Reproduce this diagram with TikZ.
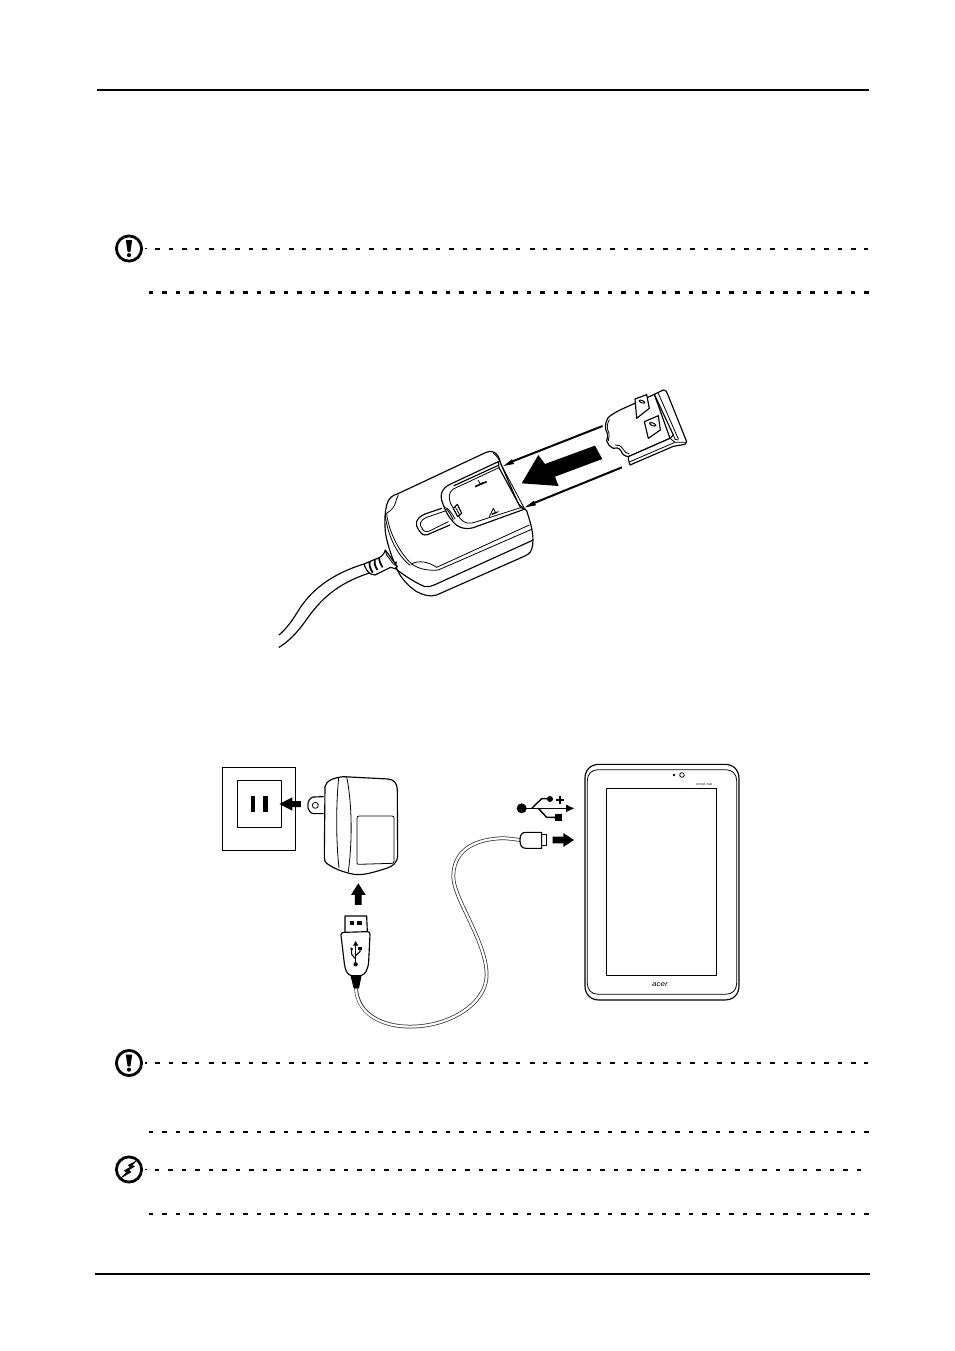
\documentclass[tikz,border=0pt]{standalone}
\usepackage{fontspec}
\setmainfont{Liberation Sans}
\tikzset{
  rule/.style={line width=2pt,black},
  dotted heavy/.style={line width=2.5pt,black,dash pattern=on 4pt off 9pt on 5pt off 9pt},
  dotted light/.style={line width=2pt,black,dash pattern=on 5pt off 8.6pt on 4pt off 9.16pt},
  dotted thin/.style={line width=2pt,black,dash pattern=on 4pt off 9pt on 5pt off 9pt},
  ink/.style={line width=1.15pt,black,line join=round,line cap=round},
  fine/.style={line width=0.8pt,black,line join=round,line cap=round},
  zoomA/.style={shift={(260,380)},x=0.3333pt,y=-0.3333pt},
  zoomB/.style={shift={(210,755)},x=0.3333pt,y=-0.3333pt},
  zoomC/.style={shift={(500,755)},x=0.3333pt,y=-0.3333pt},
  clip detail/.style={shift={(595,385)},x=0.3333pt,y=-0.3333pt},
  recess detail/.style={shift={(430,445)},x=0.3333pt,y=-0.3333pt},
  shell detail/.style={shift={(370,490)},x=0.3333pt,y=-0.3333pt},
  notice ring/.style={line width=2.8pt,black,fill=white}
}
\begin{document}
\begin{tikzpicture}[x=1pt,y=-1pt]
\useasboundingbox (0,0) rectangle (954,1351);
\fill[white] (0,0) rectangle (954,1351);

% page rules
\draw[rule] (97,90) -- (869,90);
\draw[rule] (95,1274) -- (870,1274);

% dotted write-in lines
\fill (145,247.6) rectangle (147,249.4);
\draw[dotted light] (155,248.5) -- (869,248.5);
\draw[dotted heavy] (148.5,292.5) -- (869,292.5);
\fill (145,1062.1) rectangle (147,1063.9);
\draw[dotted light] (155,1063) -- (869,1063);
\draw[dotted thin] (148.5,1132) -- (869,1132);
\fill (145,1168.6) rectangle (147,1170.4);
\draw[dotted thin] (155,1169.5) -- (862,1169.5);
\draw[dotted heavy] (148.5,1214) -- (869,1214);

% caution marks
\foreach \yc in {248.5,1063}{
  \draw[notice ring] (129,\yc) circle (12.6);
  \fill (125.8,\yc-8.5) -- (132.2,\yc-8.5) -- (130.4,\yc+3.4) -- (127.6,\yc+3.4) -- cycle;
  \fill (129,\yc+6.6) circle (2.1);
}
% warning mark with lightning bolt
\draw[notice ring] (129,1169.5) circle (12.6);
\fill (137.5,1160) -- (128,1165) -- (130,1167) -- (124,1170.5) -- (126,1172.5) -- (119,1179.5)
  -- (131.5,1172) -- (129,1170) -- (135,1166.5) -- (132.5,1165) -- cycle;

% ---- charger body with detachable plug clip ----
\begin{scope}[zoomA]
  % power cord
  \draw[ink] (312,552) .. controls (190,590) and (140,650) .. (110,700) .. controls (95,725) and (75,750) .. (57,765);
  \draw[ink] (332,578) .. controls (230,610) and (180,660) .. (135,725) .. controls (110,760) and (85,785) .. (57,802);
  % housing outline
  \draw[ink,fill=white] (380,375)
    .. controls (385,355) and (398,345) .. (412,342)
    -- (672,220) .. controls (695,208) and (715,215) .. (722,250)
    -- (775,372) -- (800,392)
    .. controls (812,430) and (822,460) .. (818,495)
    .. controls (815,515) and (810,520) .. (795,528)
    -- (530,645) .. controls (510,652) and (490,645) .. (470,635)
    .. controls (440,615) and (420,590) .. (410,565)
    .. controls (395,530) and (376,480) .. (375,440)
    .. controls (374,420) and (375,395) .. (380,375) -- cycle;
  % parting line of the two shells
  \draw[ink] (405,565) .. controls (440,592) and (470,610) .. (495,620)
    .. controls (505,622) and (515,618) .. (525,614) -- (820,480);
  % double edge of the upper shell
  \draw[fine] (530,562) -- (808,435);
  \draw[fine] (535,570) -- (815,448);
  \draw[fine] (455,552) .. controls (475,540) and (505,545) .. (530,562);
  \draw[fine] (455,552) .. controls (480,570) and (510,572) .. (535,570);
  \draw[fine] (415,345) .. controls (405,360) and (412,380) .. (380,400);
  \draw[fine] (380,400) .. controls (385,450) and (415,515) .. (455,552);
  \draw[fine] (376,405) .. controls (381,455) and (405,520) .. (450,556);
  % strain relief
  \draw[ink,fill=white] (312,552) -- (345,538) .. controls (360,535) and (372,525) .. (376,510)
    -- (412,560) -- (405,566) -- (392,562) -- (345,585) -- (332,582) .. controls (322,575) and (316,565) .. (312,552);
  \draw[line width=1.8pt] (330,544) .. controls (326,552) and (330,565) .. (338,578);
  \draw[line width=1.8pt] (344,538) .. controls (342,548) and (345,558) .. (352,570);
  \draw[line width=1.8pt] (358,532) .. controls (356,542) and (362,552) .. (368,562);
  \draw[fine] (376,512) -- (380,525) -- (400,552) -- (412,560);
  \fill (408,548) circle (4);
\end{scope}
% finger tab
\begin{scope}[shell detail]
  \draw[ink] (215,55) -- (165,72) .. controls (135,85) and (135,105) .. (145,118) .. controls (152,130) and (160,138) .. (172,134) -- (240,105);
  \draw[fine] (228,62) -- (170,82) .. controls (148,92) and (148,105) .. (155,113) .. controls (160,122) and (165,128) .. (174,125) -- (235,95);
\end{scope}
\begin{scope}[recess detail]
  % U-shaped recess, double walled
  \draw[ink,fill=white] (205,50) -- (60,118) .. controls (35,130) and (28,150) .. (38,175)
    .. controls (45,195) and (55,215) .. (65,225)
    .. controls (80,248) and (105,255) .. (130,248) -- (285,192)
    -- (272,188) -- (207,68) -- cycle;
  \draw[fine] (207,68) -- (70,132) .. controls (55,142) and (55,160) .. (63,178);
  \draw[fine] (85,212) .. controls (100,238) and (120,238) .. (140,230) -- (272,188);
  \draw[fine] (63,178) .. controls (70,190) and (78,202) .. (85,212);
  \draw[ink] (72,122) -- (203,62);
  \draw[fine] (213,58) -- (283,190);
  \draw[fine] (190,25) .. controls (200,30) and (208,45) .. (213,58);
  % latch and contact springs
  \draw[ink,fill=white] (70,190) -- (82,178) -- (95,205) -- (83,215) -- cycle;
  \draw[fine] (76,186) -- (89,210);
  \draw[fine] (43,185) .. controls (55,195) and (65,215) .. (70,225);
  \draw[fine] (52,190) .. controls (62,200) and (70,212) .. (75,222);
  \draw[line width=1.6pt] (135,125) -- (170,110);
  \draw[fine] (145,106) -- (150,116) -- (162,112);
  \draw[fine] (178,215) -- (190,190) -- (197,203) -- (206,200);
  \draw[line width=1.4pt] (185,208) -- (200,202);
\end{scope}
\begin{scope}[clip detail]
  % plug clip: base plate
  \draw[ink,fill=white] (38,100) .. controls (50,85) and (85,70) .. (120,55)
    -- (178,28) -- (225,160) -- (100,215)
    .. controls (88,213) and (82,208) .. (78,198)
    .. controls (72,188) and (62,186) .. (55,190)
    .. controls (45,185) and (38,178) .. (35,168)
    .. controls (35,160) and (40,155) .. (38,148)
    .. controls (28,130) and (30,115) .. (38,100) -- cycle;
  \draw[fine] (43,104) .. controls (35,118) and (35,130) .. (42,145) .. controls (44,152) and (40,160) .. (40,167);
  \draw[fine] (60,180) .. controls (68,178) and (78,182) .. (84,192) .. controls (88,200) and (94,206) .. (102,206);
  % front cap
  \draw[ink,fill=white] (178,28) -- (205,15) .. controls (212,14) and (216,20) .. (218,28)
    -- (275,170) -- (270,178) -- (235,184) -- (105,240) -- (100,222) -- (100,215) -- (225,160) -- (235,150) -- cycle;
  \draw[fine] (105,230) -- (240,172) -- (272,172);
  \draw[fine] (235,150) -- (240,163) -- (250,165);
  \draw[fine] (190,25) -- (250,162);
  \draw[fine] (225,160) -- (240,172);
  % blades with their holes
  \draw[ink,fill=white] (120,42) -- (155,29) -- (163,70) -- (125,100) -- cycle;
  \draw[ink,fill=white] (148,110) -- (190,92) -- (196,135) -- (160,160) -- cycle;
  \draw[line width=1pt,rotate around={-22:(141,50)}] (141,50) ellipse (9 and 3.5);
  \draw[line width=1pt,rotate around={-22:(173,118)}] (173,118) ellipse (10 and 4);
\end{scope}
\begin{scope}[zoomA]
  % guide arrows and insertion arrow
  \draw[line width=2pt] (1028,138) -- (750,247);
  \fill (730,258) -- (756,238) -- (762,252) -- cycle;
  \draw[line width=2pt] (1086,262) -- (815,372);
  \fill (795,382) -- (822,362) -- (828,376) -- cycle;
  \fill (1005,197) -- (1027,237) -- (885,290) -- (896,318) -- (785,310) -- (835,225) -- (855,252) -- cycle;
\end{scope}

% ---- wall socket and adapter ----
\begin{scope}[zoomB]
  \draw[line width=0.9pt] (37,37) rectangle (257,286);
  \draw[line width=0.9pt] (82,76) rectangle (215,218);
  \fill (122,122) rectangle (136,170);
  \fill (160,122) rectangle (175,170);
  \fill (208,147) -- (247,127) -- (247,138) -- (273,138) -- (273,156) -- (247,156) -- (247,167) -- cycle;
  % adapter housing
  \draw[ink,fill=white] (345,95) .. controls (348,78) and (370,68) .. (400,65)
    -- (535,72) .. controls (552,74) and (562,85) .. (562,105)
    -- (563,300) .. controls (563,322) and (550,333) .. (530,340)
    .. controls (495,350) and (465,362) .. (432,358)
    .. controls (400,352) and (370,340) .. (350,325)
    .. controls (344,320) and (343,315) .. (343,305) -- cycle;
  \draw[fine] (386,68) .. controls (378,150) and (378,260) .. (387,338);
  \draw[fine] (410,65) .. controls (427,150) and (427,260) .. (415,350);
  \draw[fine] (448,183) -- (546,183) .. controls (551,183) and (552,185) .. (552,190) -- (552,318)
    .. controls (552,323) and (550,325) .. (546,325) -- (446,328) .. controls (442,328) and (441,326) .. (441,322)
    -- (441,190) .. controls (441,185) and (443,183) .. (448,183) -- cycle;
  % plug blade
  \draw[ink] (340,125) -- (310,126) .. controls (288,130) and (288,172) .. (310,176) -- (340,176);
  \draw[fine] (316,151) circle (9);
  % upward arrow to adapter
  \fill (445,385) -- (467,420) -- (455,420) -- (455,450) -- (435,450) -- (435,420) -- (423,420) -- cycle;
  % USB-A plug
  \draw[ink] (405,530) -- (405,483) -- (470,483) -- (472,530);
  \fill (420,497) rectangle (432,510);
  \fill (442,497) rectangle (456,510);
  \fill (421,660) -- (455,660) -- (447,700) -- (431,700) -- cycle;
  % charging cable
  \draw[line width=3.7pt,black!80] (438,698) .. controls (442,780) and (520,815) .. (600,815)
    .. controls (720,815) and (830,745) .. (830,660)
    .. controls (830,560) and (730,430) .. (730,365)
    .. controls (730,295) and (780,255) .. (870,250)
    .. controls (890,249) and (910,252) .. (935,256);
  \draw[line width=2.2pt,white] (438,701) .. controls (442,780) and (520,815) .. (600,815)
    .. controls (720,815) and (830,745) .. (830,660)
    .. controls (830,560) and (730,430) .. (730,365)
    .. controls (730,295) and (780,255) .. (870,250)
    .. controls (890,249) and (910,252) .. (935,256);
  \draw[ink,fill=white] (393,540) .. controls (393,534) and (397,532) .. (402,532)
    -- (472,530) .. controls (478,530) and (480,533) .. (480,538)
    -- (476,620) .. controls (474,645) and (465,660) .. (452,662)
    -- (425,662) .. controls (412,660) and (405,645) .. (403,625) -- cycle;
  % USB trident on the plug
  \fill (437,558) -- (445,572) -- (429,572) -- cycle;
  \draw[line width=1.3pt] (437,565) -- (437,628);
  \fill (437,628) circle (6.5);
  \draw[line width=1.1pt,line join=round] (437,612) -- (425,598) -- (425,585);
  \fill (425,582) circle (4.5);
  \draw[line width=1.1pt,line join=round] (437,602) -- (450,590) -- (450,582);
  \fill (445,575) rectangle (456,585);
\end{scope}

% ---- tablet and micro-USB end ----
\begin{scope}[zoomC]
  \draw[ink,fill=white] (60,255) .. controls (60,240) and (65,232) .. (78,232) -- (125,232)
    -- (125,280) -- (78,280) .. controls (65,280) and (60,272) .. (60,255) -- cycle;
  \draw[ink] (125,238) -- (139,238) -- (139,272) -- (125,272);
  \fill (158,245) -- (190,245) -- (190,234) -- (222,255) -- (190,276) -- (190,265) -- (158,265) -- cycle;
  % USB symbol
  \fill (65,160) circle (15);
  \draw[line width=1.3pt,line join=round] (65,160) -- (205,160);
  \fill (222,160) -- (198,149) -- (198,171) -- cycle;
  \draw[line width=1.4pt,line join=round] (95,160) -- (125,131) -- (150,131);
  \fill (150,132) circle (9);
  \draw[line width=1.4pt,line join=round] (115,160) -- (140,187) -- (165,187);
  \fill (164,177) rectangle (187,198);
  \fill (177,122) rectangle (183,147);
  \fill (168,132) rectangle (192,138);
  % tablet
  \draw[ink] (297,28) -- (675,28) .. controls (700,28) and (717,45) .. (717,70)
    -- (717,693) .. controls (717,718) and (700,735) .. (675,735)
    -- (297,735) .. controls (272,735) and (255,718) .. (255,693)
    -- (255,70) .. controls (255,45) and (272,28) .. (297,28) -- cycle;
  \draw[fine] (295,44) -- (677,44) .. controls (697,44) and (710,57) .. (710,77)
    -- (710,685) .. controls (710,705) and (697,718) .. (677,718)
    -- (295,718) .. controls (275,718) and (262,705) .. (262,685)
    -- (262,77) .. controls (262,57) and (275,44) .. (295,44) -- cycle;
  \draw[line width=0.9pt] (319,100) rectangle (649,661);
  \fill (522,60) circle (4);
  \draw[fine] (546,60) circle (7);
  \node[font=\fontsize{2.8}{3}\selectfont\bfseries,inner sep=0pt,text=black!70] (brand) at (612,88) {ICONIA TAB};
  \node[font=\fontsize{7}{8}\selectfont\itshape,inner sep=0pt,xscale=1.15] (logo) at (480,689) {acer};
\end{scope}
\end{tikzpicture}
\end{document}
